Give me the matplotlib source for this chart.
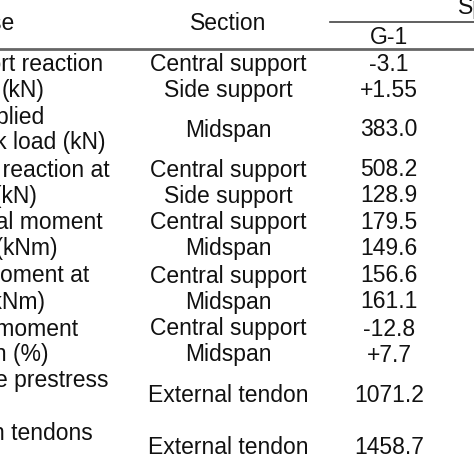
import matplotlib
matplotlib.use("Agg")
import matplotlib.pyplot as plt

plt.rcParams['font.family'] = ['Liberation Sans', 'DejaVu Sans']

labels = ["Support reaction", "(kN)", "Applied", "peak load (kN)", "Support reaction at", "peak (kN)",
          "Internal moment", "at peak (kNm)", "Moment at", "peak (kNm)", "Difference of moment",
          "distribution (%)", "Effective prestress", "Force in tendons"]
label_y = [64, 90, 117, 143, 170, 196, 222, 248, 276, 302, 329, 355, 381, 434]
label_xr = [103, 45, 45, 106, 110, 37, 103, 58, 89, 45, 78, 48, 109, 93]
sections = ["Central support", "Side support", "Midspan", "Central support", "Side support",
            "Central support", "Midspan", "Central support", "Midspan", "Central support",
            "Midspan", "External tendon", "External tendon"]
g1 = ["-3.1", "+1.55", "383.0", "508.2", "128.9", "179.5", "149.6", "156.6", "161.1",
      "-12.8", "+7.7", "1071.2", "1458.7"]
row_y = [64, 90, 130, 170, 196, 222, 248, 276, 302, 329, 355, 396, 448]

W = H = 474
fig = plt.figure(figsize=(4.74, 4.74), dpi=100)
ax = fig.add_axes([0, 0, 1, 1])
ax.set_xlim(0, W)
ax.set_ylim(H, 0)
ax.axis('off')
fs = 16.5
kw = dict(fontsize=fs, color='#111111', va='center')

ax.text(14, 23, "Response", ha='right', **kw)
ax.text(228, 23, "Section", ha='center', **kw)
ax.text(458, 7, "Specimen", ha='left', **kw)
ax.text(389, 37, "G-1", ha='center', **kw)
ax.plot([330, 474], [22, 22], color='#444444', lw=1.2)
ax.plot([0, 474], [49, 49], color='#666666', lw=2.0)

for t, y, xr in zip(labels, label_y, label_xr):
    ax.text(xr, y, t, ha='right', **kw)
for s, v, y in zip(sections, g1, row_y):
    ax.text(228, y, s, ha='center', **kw)
    ax.text(389, y, v, ha='center', **kw)

fig.savefig("out.png", dpi=100)
